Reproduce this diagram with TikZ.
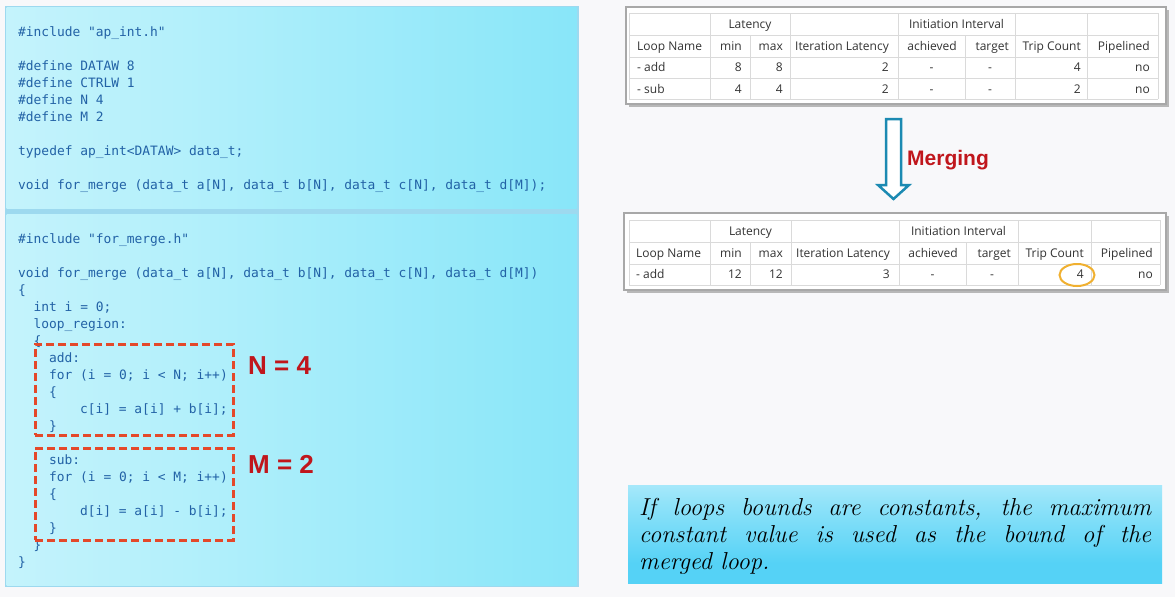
\documentclass[tikz,border=0pt]{standalone}
\usepackage{fontspec}
\newfontfamily\codefont{DejaVu Sans Mono}
\newfontfamily\tabfont{Open Sans}
\newfontfamily\boldsans{Liberation Sans}
\usetikzlibrary{shapes.geometric}

\definecolor{bgc}{HTML}{F8F8FA}
\definecolor{codeblue}{HTML}{2262A6}
\definecolor{panelL}{HTML}{DFF8FD}
\definecolor{panelM}{HTML}{B4F0FB}
\definecolor{panelR}{HTML}{7CE3F8}
\definecolor{panelEdge}{HTML}{9DD9EF}
\definecolor{dashred}{HTML}{E4482A}
\definecolor{bigred}{HTML}{C0161C}
\definecolor{tabtext}{HTML}{333333}
\definecolor{gridc}{HTML}{DADADA}
\definecolor{framec}{HTML}{A8A8A8}
\definecolor{arrowc}{HTML}{1C8AB2}
\definecolor{ringc}{HTML}{F0B030}
\definecolor{noteT}{HTML}{E2F8FD}
\definecolor{noteU}{HTML}{8EE2F9}
\definecolor{noteM}{HTML}{55D2F6}
\definecolor{noteB}{HTML}{90E1F8}

\pgfdeclarehorizontalshading{panelshade}{100bp}{color(0bp)=(panelL); color(40bp)=(panelM); color(85bp)=(panelR); color(100bp)=(panelR)}
\pgfdeclareverticalshading{noteshade}{100bp}{color(0bp)=(noteB); color(6bp)=(noteM); color(35bp)=(noteM); color(65bp)=(noteU); color(100bp)=(noteT)}

\newcommand\codeline[5]{\node[code] (#1) at ({18+7.74*#3},{#4+17*#2}) {#5};}
\newcommand\tc[5]{\node[cell,anchor=#2] (#1) at (#3,#4) {#5};}

\begin{document}
\begin{tikzpicture}[x=1pt,y=-1pt,
  code/.style={font=\codefont\fontsize{12.9}{17}\selectfont, text=codeblue, anchor=base west, inner sep=0pt},
  cell/.style={font=\tabfont\fontsize{12}{14}\selectfont, text=tabtext, inner sep=0pt},
  dashbox/.style={draw=dashred, line width=3pt, dash pattern=on 8pt off 4pt, inner sep=0pt},
  bigval/.style={font=\boldsans\bfseries\fontsize{26}{30}\selectfont, text=bigred, anchor=west, inner sep=0pt},
  grid/.style={draw=gridc, line width=0.8pt},
  frame/.style={draw=framec, line width=1.6pt, fill=white},
  shadowbox/.style={fill=black!28},
  panel/.style={shading=panelshade},
  note/.style={font=\fontsize{24.5}{27}\selectfont\itshape, anchor=base west, inner sep=0pt}
]
\useasboundingbox (0,0) rectangle (1175,597);
\fill[bgc] (0,0) rectangle (1175,597);

% ---------- left code panels ----------
\fill[panelEdge] (4.5,5.5) rectangle (578.5,586.5);
\shade[panel] (6.5,7.5) rectangle (576.5,208.5);
\shade[panel] (6.5,214) rectangle (576.5,585);

\codeline{a0}{0}{0}{36}{\#include "ap\_int.h"}
\codeline{a2}{2}{0}{36}{\#define DATAW 8}
\codeline{a3}{3}{0}{36}{\#define CTRLW 1}
\codeline{a4}{4}{0}{36}{\#define N 4}
\codeline{a5}{5}{0}{36}{\#define M 2}
\codeline{a7}{7}{0}{36}{typedef ap\_int<DATAW> data\_t;}
\codeline{a9}{9}{0}{36}{void for\_merge (data\_t a[N], data\_t b[N], data\_t c[N], data\_t d[M]);}

\codeline{b0}{0}{0}{243}{\#include "for\_merge.h"}
\codeline{b2}{2}{0}{243}{void for\_merge (data\_t a[N], data\_t b[N], data\_t c[N], data\_t d[M])}
\codeline{b3}{3}{0}{243}{\{}
\codeline{b4}{4}{2}{243}{int i = 0;}
\codeline{b5}{5}{2}{243}{loop\_region:}
\codeline{b6}{6}{2}{243}{\{}
\codeline{b7}{7}{4}{243}{add:}
\codeline{b8}{8}{4}{243}{for (i = 0; i < N; i++)}
\codeline{b9}{9}{4}{243}{\{}
\codeline{b10}{10}{8}{243}{c[i] = a[i] + b[i];}
\codeline{b11}{11}{4}{243}{\}}
\codeline{b13}{13}{4}{243}{sub:}
\codeline{b14}{14}{4}{243}{for (i = 0; i < M; i++)}
\codeline{b15}{15}{4}{243}{\{}
\codeline{b16}{16}{8}{243}{d[i] = a[i] - b[i];}
\codeline{b17}{17}{4}{243}{\}}
\codeline{b18}{18}{2}{243}{\}}
\codeline{b19}{19}{0}{243}{\}}

\node[dashbox, minimum width=198pt, minimum height=91pt] (addbox) at (134,389.5) {};
\node[dashbox, minimum width=198pt, minimum height=92pt] (subbox) at (134,494) {};
\node[bigval] (nval) at (248,366) {N = 4};
\node[bigval] (mval) at (248,464) {M = 2};

% ---------- table 1 ----------
\fill[shadowbox] (628.5,9.5) rectangle (1168.5,107);
\draw[frame] (626,7) rectangle (1166,104);
\foreach \yy in {13,35,57,78,99} \draw[grid] (629,\yy) -- (1158,\yy);
\foreach \xx in {629,710,790,898,1015,1087,1158} \draw[grid] (\xx,13) -- (\xx,99);
\foreach \xx in {750,965} \draw[grid] (\xx,35) -- (\xx,99);

\tc{ta-lat}{base}{750}{28.5}{Latency}
\tc{ta-ii}{base}{956.5}{28.5}{Initiation Interval}
\tc{ta-h1}{base west}{637}{50}{Loop Name}
\tc{ta-h2}{base east}{742}{50}{min}
\tc{ta-h3}{base east}{783}{50}{max}
\tc{ta-h4}{base east}{889}{50}{Iteration Latency}
\tc{ta-h5}{base east}{957}{50}{achieved}
\tc{ta-h6}{base east}{1009}{50}{target}
\tc{ta-h7}{base east}{1081}{50}{Trip Count}
\tc{ta-h8}{base east}{1150}{50}{Pipelined}
\tc{ta-a1}{base west}{637}{71.5}{- add}
\tc{ta-a2}{base east}{742}{71.5}{8}
\tc{ta-a3}{base east}{783}{71.5}{8}
\tc{ta-a4}{base east}{889}{71.5}{2}
\tc{ta-a5}{base}{931.5}{71.5}{-}
\tc{ta-a6}{base}{990}{71.5}{-}
\tc{ta-a7}{base east}{1081}{71.5}{4}
\tc{ta-a8}{base east}{1150}{71.5}{no}
\tc{ta-s1}{base west}{637}{93}{- sub}
\tc{ta-s2}{base east}{742}{93}{4}
\tc{ta-s3}{base east}{783}{93}{4}
\tc{ta-s4}{base east}{889}{93}{2}
\tc{ta-s5}{base}{931.5}{93}{-}
\tc{ta-s6}{base}{990}{93}{-}
\tc{ta-s7}{base east}{1081}{93}{2}
\tc{ta-s8}{base east}{1150}{93}{no}

% ---------- merging arrow ----------
\draw[draw=arrowc, fill=white, line width=2.5pt, line join=miter]
  (886,119) -- (901,119) -- (901,185) -- (909,185) -- (893.5,199) -- (878,185) -- (886,185) -- cycle;
\node[font=\boldsans\bfseries\fontsize{21}{24}\selectfont, text=bigred, anchor=west, inner sep=0pt] (merging) at (907,160) {Merging};

% ---------- table 2 ----------
\fill[shadowbox] (626.5,215.5) rectangle (1168.5,293);
\draw[frame] (624,213) rectangle (1166,290);
\foreach \yy in {220,242,264,285} \draw[grid] (629,\yy) -- (1160,\yy);
\foreach \xx in {629,710,791,899,1018,1091,1160} \draw[grid] (\xx,220) -- (\xx,285);
\foreach \xx in {750,966} \draw[grid] (\xx,242) -- (\xx,285);

\tc{tb-lat}{base}{750.5}{235}{Latency}
\tc{tb-ii}{base}{958.5}{235}{Initiation Interval}
\tc{tb-h1}{base west}{636}{257}{Loop Name}
\tc{tb-h2}{base east}{742}{257}{min}
\tc{tb-h3}{base east}{783}{257}{max}
\tc{tb-h4}{base east}{890}{257}{Iteration Latency}
\tc{tb-h5}{base east}{958}{257}{achieved}
\tc{tb-h6}{base east}{1011}{257}{target}
\tc{tb-h7}{base east}{1084}{257}{Trip Count}
\tc{tb-h8}{base east}{1153}{257}{Pipelined}
\tc{tb-a1}{base west}{636}{278.5}{- add}
\tc{tb-a2}{base east}{742}{278.5}{12}
\tc{tb-a3}{base east}{783}{278.5}{12}
\tc{tb-a4}{base east}{890}{278.5}{3}
\tc{tb-a5}{base}{932.5}{278.5}{-}
\tc{tb-a6}{base}{992}{278.5}{-}
\tc{tb-a7}{base east}{1084}{278.5}{4}
\tc{tb-a8}{base east}{1153}{278.5}{no}
\node[draw=ringc, line width=2pt, ellipse, minimum width=35pt, minimum height=22pt, inner sep=0pt] (ring) at (1077,275) {};

% ---------- note box ----------
\shade[shading=noteshade] (628,485) rectangle (1162,583);
\node[note] (note1) at (639,515.5) {\makebox[512pt][s]{If loops bounds are constants, the maximum}};
\node[note] (note2) at (639,542.5) {\makebox[512pt][s]{constant value is used as the bound of the}};
\node[note] (note3) at (639,569.5) {merged loop.};
\end{tikzpicture}
\end{document}
